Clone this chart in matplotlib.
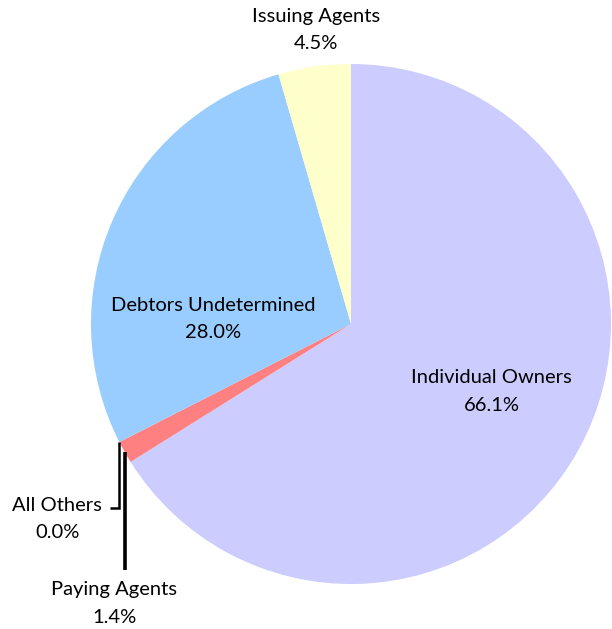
import numpy as np
import matplotlib.pyplot as plt

plt.rcParams['font.family'] = ['Lato', 'DejaVu Sans']

categories = ["Individual Owners", "Paying Agents", "All Others",
              "Debtors Undetermined", "Issuing Agents"]
shares = [66.1, 1.4, 0.0, 28.0, 4.5]
colors = ["#CCCCFF", "#FF8080", "#FFFFFF", "#99CCFF", "#FFFFCC"]

# label positions in pie units (radius 1)
label_pos = {
    "Individual Owners": (0.54, -0.26),
    "Paying Agents": (-0.91, -1.075),
    "All Others": (-1.13, -0.75),
    "Debtors Undetermined": (-0.53, 0.02),
    "Issuing Agents": (-0.135, 1.13),
}

fig = plt.figure(figsize=(6.12, 6.29), dpi=100)
ax = fig.add_axes([0, 0, 1, 1])
wedges, _ = ax.pie(shares, colors=colors, startangle=90, counterclock=False,
                   radius=1, wedgeprops=dict(linewidth=0))
ax.set_xlim(-351 / 260, 261 / 260)
ax.set_ylim(-305 / 260, 324 / 260)
ax.set_aspect('equal')
ax.axis('off')

for name, val in zip(categories, shares):
    x, y = label_pos[name]
    ax.text(x, y, f"{name}\n{val:.1f}%", ha='center', va='center',
            fontsize=14.5, linespacing=1.75)

# leader lines for the tiny slices
w_pay = wedges[1]
ang = np.deg2rad((w_pay.theta1 + w_pay.theta2) / 2)
px, py = np.cos(ang), np.sin(ang)
ax.plot([px, px], [py, -0.946], color='black', lw=2.6, solid_capstyle='butt')

w_oth = wedges[2]
ang = np.deg2rad(w_oth.theta1)
ox, oy = np.cos(ang), np.sin(ang)
ax.plot([ox, ox, -0.927], [oy, -0.708, -0.708], color='black', lw=1.8,
        solid_joinstyle='miter', solid_capstyle='butt')

fig.savefig("out.png", dpi=100)
